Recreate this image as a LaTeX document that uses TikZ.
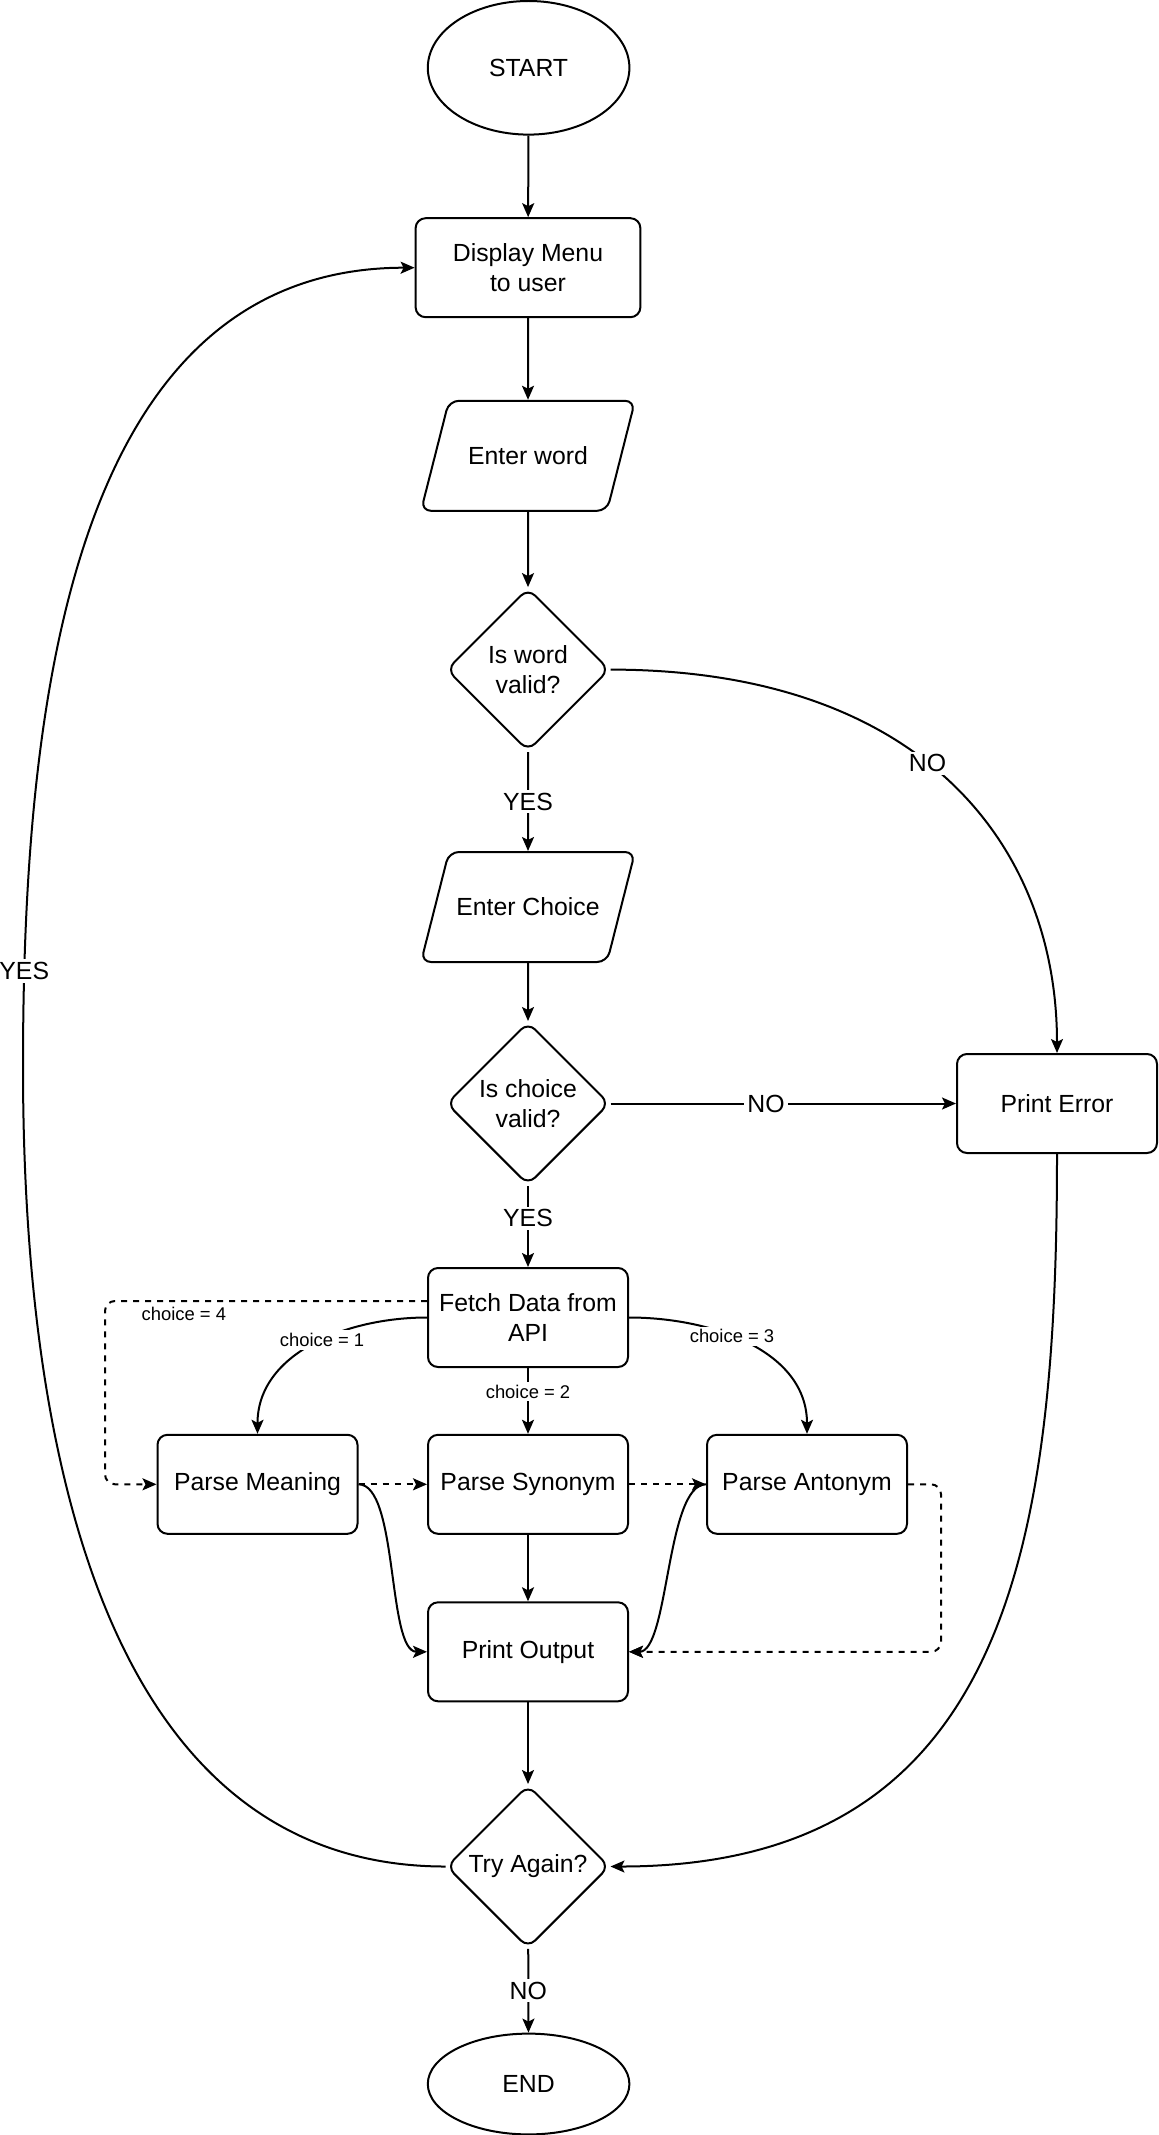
\documentclass[tikz,border=0pt]{standalone}
\usepackage{fontspec}
\setmainfont{Liberation Sans}
\usetikzlibrary{shapes.geometric,arrows.meta}
\newcommand{\mainsize}{\fontsize{12.4}{15}\selectfont}
\newcommand{\lblsize}{\fontsize{9.2}{11}\selectfont}

\begin{document}
\begin{tikzpicture}[x=0.5pt, y=-0.5pt,
    terminal/.style={ellipse, draw, line width=1pt, minimum width=100.8pt,
        minimum height=66.8pt, inner sep=0pt, font=\mainsize},
    process/.style={rectangle, draw, line width=1pt, rounded corners=5pt,
        minimum width=100pt, minimum height=49.5pt, inner sep=0pt,
        font=\mainsize, align=center},
    io/.style={trapezium, trapezium left angle=75, trapezium right angle=105,
        trapezium stretches body, draw, line width=1pt, rounded corners=5pt,
        inner ysep=21.5pt, minimum width=107pt, minimum height=55pt,
        font=\mainsize},
    decision/.style={diamond, draw, line width=1pt, rounded corners=5pt,
        minimum width=81.5pt, minimum height=81.5pt, inner sep=0pt,
        font=\mainsize, align=center},
    arrow/.style={-{Stealth[length=7pt,width=6pt,inset=1.5pt]}, line width=1pt},
    dasharrow/.style={arrow, dash pattern=on 3pt off 3pt},
    yesno/.style={fill=white, font=\mainsize, inner sep=1.5pt},
    choicelbl/.style={fill=white, font=\lblsize, inner sep=1.5pt}
]
\useasboundingbox (0,0) rectangle (1158,2135);

\node[terminal] (start) at (528.6,67.8) {START};
\node[process, minimum width=112.4pt] (menu) at (528,267.7) {Display Menu\\to user};
\node[io] (word) at (528,455.8) {Enter word};
\node[decision] (wordok) at (528,669.6) {Is word\\valid?};
\node[io] (choice) at (528,907) {Enter Choice};
\node[decision] (choiceok) at (528,1103.5) {Is choice\\valid?};
\node[process] (error) at (1057,1103.5) {Print Error};
\node[process] (fetch) at (528,1317.5) {Fetch Data from\\API};
\node[process] (meaning) at (257.5,1484.3) {Parse Meaning};
\node[process] (synonym) at (528,1484.3) {Parse Synonym};
\node[process] (antonym) at (807,1484.3) {Parse Antonym};
\node[process] (output) at (528,1651.8) {Print Output};
\node[decision] (again) at (528,1866.5) {Try Again?};
\node[terminal, minimum height=50.4pt] (finish) at (528.6,2084) {END};
\coordinate (yesturn) at (23,1067);

\draw[arrow] (start) -- (menu);
\draw[arrow] (menu) -- (word);
\draw[arrow] (word) -- (wordok);
\draw[arrow] (wordok) -- node[yesno] {YES} (choice);
\draw[arrow] (wordok.east) to[out=0,in=90,out looseness=1.35,in looseness=0.9]
    node[yesno, pos=0.45] {NO} (error.north);
\draw[arrow] (choice) -- (choiceok);
\draw[arrow] (choiceok) -- node[yesno, pos=0.45] {NO} (error);
\draw[arrow] (choiceok) -- node[yesno, pos=0.4] {YES} (fetch);
\draw[arrow] (fetch.west) to[out=180,in=90] node[choicelbl, pos=0.45] {choice = 1} (meaning.north);
\draw[arrow] (fetch) -- node[choicelbl, pos=0.36] {choice = 2} (synonym);
\draw[arrow] (fetch.east) to[out=0,in=90] node[choicelbl, pos=0.42] {choice = 3} (antonym.north);
\draw[dasharrow, rounded corners=5pt] ([yshift=8.25pt]fetch.west)
    -- node[pos=0.755, yshift=-6.5pt, font=\lblsize] {choice = 4} ++(-322,0)
    |- (meaning.west);
\draw[dasharrow] (meaning) -- (synonym);
\draw[dasharrow] (synonym) -- (antonym);
\draw[dasharrow, rounded corners=5pt] (antonym.east) -- ++(33,0) |- (output.east);
\draw[arrow] (meaning.east) .. controls +(40,0) and +(-40,0) .. (output.west);
\draw[arrow] (antonym.west) .. controls +(-40,0) and +(40,0) .. (output.east);
\draw[arrow] (synonym) -- (output);
\draw[arrow] (output) -- (again);
\draw[arrow] (error.south) to[out=-90,in=0,looseness=1.2] (again.east);
\draw[arrow] (again.west) to[out=180,in=-90] (yesturn)
    to[out=90,in=180] node[yesno, pos=0.09] {YES} (menu.west);
\draw[arrow] (again) -- node[yesno] {NO} (finish);

\end{tikzpicture}
\end{document}
